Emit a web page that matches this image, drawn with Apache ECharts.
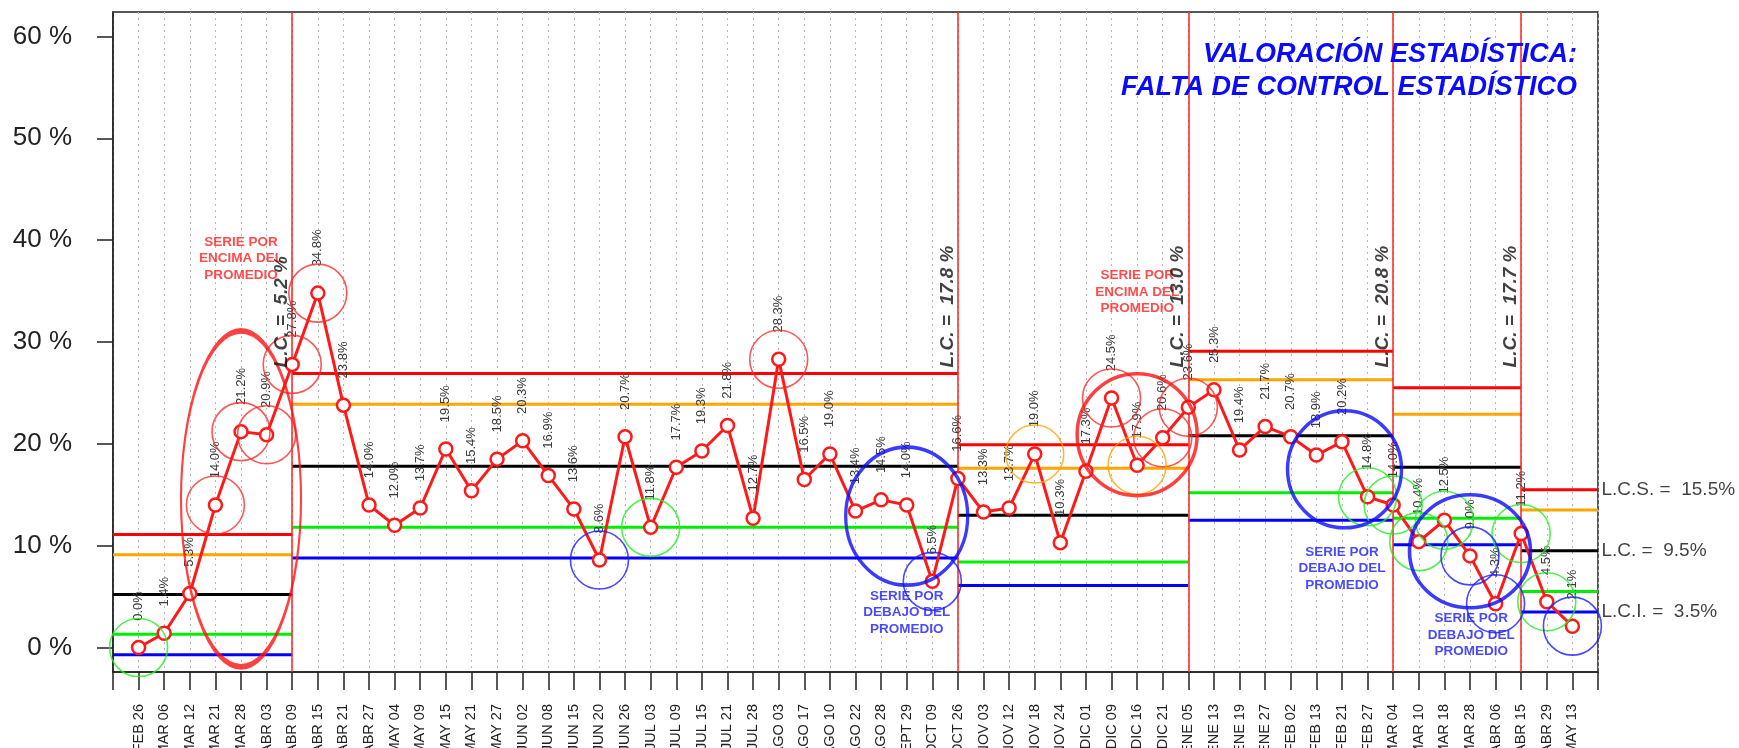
<!DOCTYPE html>
<html><head><meta charset="utf-8">
<script src="https://cdn.jsdelivr.net/npm/echarts@6/dist/echarts.min.js"></script>
<style>html,body{margin:0;padding:0;background:#fff}#c{width:1739px;height:748px}</style>
</head><body><div id="c"></div>
<script>
const categories = ['FEB 26','MAR 06','MAR 12','MAR 21','MAR 28','ABR 03','ABR 09','ABR 15','ABR 21','ABR 27',
  'MAY 04','MAY 09','MAY 15','MAY 21','MAY 27','JUN 02','JUN 08','JUN 15','JUN 20','JUN 26',
  'JUL 03','JUL 09','JUL 15','JUL 21','JUL 28','AGO 03','AGO 17','AGO 10','AGO 22','AGO 28',
  'SEPT 29','OCT 09','OCT 26','NOV 03','NOV 12','NOV 18','NOV 24','DIC 01','DIC 09','DIC 16',
  'DIC 21','ENE 05','ENE 13','ENE 19','ENE 27','FEB 02','FEB 13','FEB 21','FEB 27','MAR 04',
  'MAR 10','MAR 18','MAR 28','ABR 06','ABR 15','ABR 29','MAY 13'];
const values = [0.0,1.4,5.3,14.0,21.2,20.9,27.8,34.8,23.8,14.0,
  12.0,13.7,19.5,15.4,18.5,20.3,16.9,13.6,8.6,20.7,
  11.8,17.7,19.3,21.8,12.7,28.3,16.5,19.0,13.4,14.5,
  14.0,6.5,16.6,13.3,13.7,19.0,10.3,17.3,24.5,17.9,
  20.6,23.6,25.3,19.4,21.7,20.7,18.9,20.2,14.8,14.0,
  10.4,12.5,9.0,4.3,11.2,4.5,2.1];
const phaseBreaks = [0, 7, 33, 42, 50, 55, 58];
const centerLine  = [5.2, 17.8, 13.0, 20.8, 17.7, 9.5];
const upperLimit  = [11.1, 26.9, 19.9, 29.1, 25.5, 15.5];
const upper2Sigma = [9.1, 23.9, 17.6, 26.3, 22.9, 13.5];
const lower2Sigma = [1.3, 11.8, 8.4, 15.2, 12.7, 5.5];
const lowerLimit  = [-0.7, 8.8, 6.1, 12.5, 10.1, 3.5];
const yTicks = [0, 10, 20, 30, 40, 50, 60];
const redCircled = [4, 5, 6, 7, 8, 26, 39, 41, 42];
const greenCircled = [1, 21, 49, 50, 51, 52, 55, 56];
const blueCircled = [19, 32, 53, 54, 57];
const orangeCircled = [36, 40];
const runsAbove = [[5.0, 14.6], [40.0, 20.9]];
const runsBelow = [[31.0, 12.9], [48.1, 17.5], [53.0, 9.45]];
const aboveTextAt = [[5.0, 38.2], [40.0, 34.9]];
const belowTextAt = [[31.0, 3.45], [48.0, 7.74], [53.05, 1.25]];
const titleLines = ['VALORACIÓN ESTADÍSTICA:', 'FALTA DE CONTROL ESTADÍSTICO'];

const FONT = '"Liberation Sans", Arial, Helvetica, sans-serif';
const RED = '#ff1a1a', BLUE = '#0000ff', GREEN = '#00ee00', ORANGE = '#ffa500';

const chart = echarts.init(document.getElementById('c'), null, {renderer: 'canvas'});
const series = [];

const levels = [
  [upperLimit, '#ff0000'], [upper2Sigma, ORANGE], [centerLine, '#000000'],
  [lower2Sigma, GREEN], [lowerLimit, BLUE]
];
levels.forEach(([arr, col]) => {
  for (let i = 0; i < arr.length; i++) {
    series.push({
      type: 'line', z: 2, silent: true, symbol: 'none', animation: false,
      lineStyle: {color: col, width: 3},
      data: [[phaseBreaks[i], arr[i]], [phaseBreaks[i + 1], arr[i]]]
    });
  }
});

// phase separators
series.push({
  type: 'line', z: 3, silent: true, symbol: 'none', data: [], animation: false,
  markLine: {
    silent: true, symbol: 'none', label: {show: false}, animation: false,
    lineStyle: {color: '#ff2020', width: 1.5, type: 'solid'},
    data: phaseBreaks.slice(1, -1).map(x => ({xAxis: x}))
  }
});

// data
series.push({
  type: 'line', z: 5, animation: false,
  data: values.map((v, i) => [i + 1, v]),
  symbol: 'circle', symbolSize: 13,
  lineStyle: {color: RED, width: 3},
  itemStyle: {color: '#fff', borderColor: RED, borderWidth: 2.5},
  label: {
    show: true, position: 'top', distance: 19, rotate: 90,
    align: 'left', verticalAlign: 'middle',
    fontSize: 13, color: '#3a3a3a', fontFamily: FONT,
    formatter: p => p.value[1].toFixed(1) + '%'
  }
});

// small circles
[[redCircled, '#ff2a2a'], [greenCircled, '#22ee22'], [blueCircled, '#1a1aff'], [orangeCircled, ORANGE]].forEach(([pts, col]) => {
  series.push({
    type: 'scatter', z: 6, silent: true, animation: false, clip: false,
    symbol: 'circle', symbolSize: 58,
    itemStyle: {color: 'rgba(0,0,0,0)', borderColor: col, borderWidth: 1.6},
    data: pts.map(i => [i, values[i - 1]])
  });
});

// big ellipses
const bigSizes = [[120, 336], [120, 122], [122, 138], [114, 117], [121, 113]];
const bigData = runsAbove.map((c, k) => ({value: c, symbolSize: bigSizes[k], itemStyle: {borderColor: '#ff1010'}}))
  .concat(runsBelow.map((c, k) => ({value: c, symbolSize: bigSizes[k + 2], itemStyle: {borderColor: '#0a0aff'}})));
series.push({
  type: 'scatter', z: 7, silent: true, animation: false, clip: false,
  symbol: 'circle',
  itemStyle: {color: 'rgba(0,0,0,0)', borderWidth: 3.5},
  data: bigData
});

// run texts
const runText = (pos, txt, col) => ({
  type: 'scatter', z: 8, silent: true, animation: false, clip: false,
  symbolSize: 1, itemStyle: {color: 'rgba(0,0,0,0)'},
  label: {show: true, position: 'inside', formatter: txt, color: col, fontSize: 13.5,
    fontWeight: 'bold', fontFamily: FONT, lineHeight: 16.5, align: 'center', verticalAlign: 'middle'},
  data: pos
});
series.push(runText(aboveTextAt, 'SERIE POR\nENCIMA DEL\nPROMEDIO', '#ff2020'));
series.push(runText(belowTextAt, 'SERIE POR\nDEBAJO DEL\nPROMEDIO', '#1a1aff'));

// L.C. vertical labels at phase ends
series.push({
  type: 'scatter', z: 9, silent: true, animation: false, clip: false,
  symbolSize: 1, itemStyle: {color: 'rgba(0,0,0,0)'},
  label: {show: true, position: 'inside', rotate: 90, align: 'left', verticalAlign: 'bottom',
    fontSize: 19, fontWeight: 'bold', fontStyle: 'italic', color: '#111', fontFamily: FONT,
    formatter: p => 'L.C. =  ' + centerLine[p.dataIndex].toFixed(1) + ' %'},
  data: centerLine.slice(0, 5).map((v, i) => [phaseBreaks[i + 1] - 0.03, 27.5])
});

// right-side labels for last phase
const last = centerLine.length - 1;
series.push({
  type: 'scatter', z: 9, silent: true, animation: false, clip: false,
  symbolSize: 1, itemStyle: {color: 'rgba(0,0,0,0)'},
  label: {show: true, position: 'right', distance: 3, fontSize: 19, color: '#111', fontFamily: FONT,
    formatter: p => p.name},
  data: [
    {name: 'L.C.S. =  ' + upperLimit[last].toFixed(1) + '%', value: [58, upperLimit[last]]},
    {name: 'L.C. =  ' + centerLine[last].toFixed(1) + '%', value: [58, centerLine[last]]},
    {name: 'L.C.I. =  ' + lowerLimit[last].toFixed(1) + '%', value: [58, lowerLimit[last]]}
  ]
});

chart.setOption({
  animation: false,
  backgroundColor: '#fff',
  grid: {left: 113, right: 141, top: 12, bottom: 76, show: true, borderColor: '#222', borderWidth: 1.5,
    containLabel: false, outerBoundsMode: 'none'},
  xAxis: {
    type: 'value', min: 0, max: 58, interval: 1,
    axisLine: {show: true, onZero: false, lineStyle: {color: '#222', width: 1.5}},
    axisTick: {show: true, length: 18, lineStyle: {color: '#222', width: 1.5}},
    axisLabel: {rotate: 90, margin: 32, fontSize: 14.5, color: '#222', fontFamily: FONT,
      formatter: v => categories[Math.round(v) - 1] || ''},
    splitLine: {show: true, lineStyle: {color: '#b5b5b5', width: 1, type: [2, 4]}}
  },
  yAxis: {
    type: 'value', min: -2.4, max: 62.4,
    axisLine: {show: true, onZero: false, lineStyle: {color: '#222', width: 1.5}},
    axisTick: {show: true, length: 16, customValues: yTicks, lineStyle: {color: '#222', width: 1.5}},
    axisLabel: {customValues: yTicks, margin: 41, fontSize: 26, color: '#222', fontFamily: FONT,
      formatter: v => v + ' %'},
    splitLine: {show: false}
  },
  graphic: titleLines.map((t, k) => ({
    type: 'text', x: 1577, y: 55 + 33 * k, z: 100,
    style: {text: t, fill: '#0a0aff', align: 'right', verticalAlign: 'middle',
      font: 'italic bold 27px ' + FONT}
  })),
  series: series
});
</script></body></html>
